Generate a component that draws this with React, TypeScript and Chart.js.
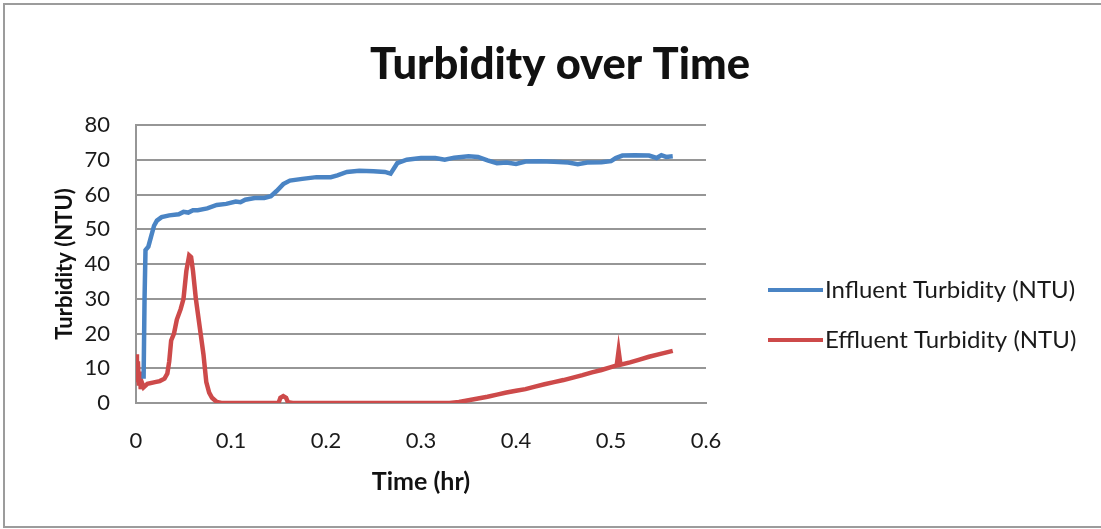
import React, { useEffect, useRef } from "react";
import { Chart, registerables } from "chart.js";

Chart.register(...registerables);

const influentTime = [
  0.008, 0.009, 0.01, 0.013, 0.016, 0.019, 0.022, 0.027, 0.035, 0.045, 0.05, 0.055, 0.06, 0.065,
  0.075, 0.085, 0.095, 0.105, 0.11, 0.115, 0.125, 0.135, 0.142, 0.148, 0.155, 0.162, 0.175, 0.19,
  0.205, 0.212, 0.222, 0.235, 0.25, 0.262, 0.268, 0.275, 0.285, 0.3, 0.315, 0.325, 0.335, 0.35,
  0.36, 0.37, 0.38, 0.39, 0.4, 0.41, 0.425, 0.44, 0.455, 0.465, 0.475, 0.49, 0.5, 0.505, 0.512,
  0.525, 0.54, 0.548, 0.553, 0.558, 0.565,
];
const influentNTU = [
  7, 30, 44, 45, 48, 51, 52.5, 53.5, 54, 54.3, 55, 54.8, 55.5, 55.5, 56, 57, 57.3, 58, 57.8, 58.5,
  59, 59, 59.5, 61, 63, 64, 64.5, 65, 65, 65.5, 66.5, 66.8, 66.7, 66.5, 66, 69, 70, 70.5, 70.5, 70,
  70.6, 71, 70.8, 69.8, 69, 69.2, 68.8, 69.5, 69.6, 69.4, 69.2, 68.7, 69.2, 69.3, 69.6, 70.5,
  71.2, 71.3, 71.2, 70.5, 71.3, 70.8, 71,
];

const effluentTime = [
  0, 0.001, 0.002, 0.003, 0.004, 0.005, 0.006, 0.008, 0.012, 0.02, 0.025, 0.03, 0.033, 0.035,
  0.037, 0.04, 0.043, 0.047, 0.05, 0.053, 0.056, 0.058, 0.06, 0.063, 0.067, 0.071, 0.074, 0.077,
  0.08, 0.085, 0.09, 0.15, 0.152, 0.155, 0.158, 0.16, 0.165, 0.33, 0.34, 0.35, 0.36, 0.37, 0.38,
  0.39, 0.4, 0.41, 0.42, 0.43, 0.44, 0.45, 0.46, 0.47, 0.48, 0.49, 0.5, 0.506, 0.508, 0.51, 0.52,
  0.53, 0.54, 0.55, 0.565,
];
const effluentNTU = [
  14, 6, 12, 5, 9, 4, 6, 4.5, 5.5, 6, 6.3, 7, 8.5, 12, 18, 20, 24, 27, 30, 38, 42.5, 42, 38, 30,
  22, 14, 6, 3, 1.5, 0.3, 0, 0, 1.5, 2, 1.5, 0.2, 0, 0, 0.3, 0.8, 1.3, 1.8, 2.4, 3, 3.5, 4, 4.7,
  5.4, 6, 6.6, 7.3, 8, 8.8, 9.5, 10.3, 10.8, 15, 11, 11.7, 12.5, 13.3, 14, 15,
];

const seriesNames = ["Influent Turbidity (NTU)", "Effluent Turbidity (NTU)"];
const seriesColors = ["#4a84c4", "#cd4a4a"];
const chartTitle = "Turbidity over Time";
const xTitle = "Time (hr)";
const yTitle = "Turbidity (NTU)";

const FONT = "Lato, 'Open Sans', sans-serif";

const legendPlugin = {
  id: "sideLegend",
  afterDraw(chart: any) {
    const { ctx, chartArea } = chart;
    ctx.save();
    chart.data.datasets.forEach((ds: any, i: number) => {
      const y = chartArea.top + 165 + i * 50;
      const x0 = chartArea.right + 62;
      ctx.strokeStyle = ds.borderColor;
      ctx.lineWidth = 4;
      ctx.beginPath();
      ctx.moveTo(x0, y);
      ctx.lineTo(x0 + 55, y);
      ctx.stroke();
      ctx.fillStyle = "#1a1a1a";
      ctx.font = `24px ${FONT}`;
      ctx.textAlign = "left";
      ctx.textBaseline = "middle";
      ctx.fillText(ds.label, x0 + 57, y);
    });
    ctx.restore();
  },
};

export default function App() {
  const ref = useRef<HTMLCanvasElement>(null);
  useEffect(() => {
    if (!ref.current) return;
    const grid = "#969696";
    const chart = new Chart(ref.current, {
      type: "line",
      data: {
        datasets: [
          {
            label: seriesNames[0],
            data: influentTime.map((t, i) => ({ x: t, y: influentNTU[i] })),
            borderColor: seriesColors[0],
            backgroundColor: seriesColors[0],
            borderWidth: 4.5,
            pointRadius: 0,
            tension: 0,
          },
          {
            label: seriesNames[1],
            data: effluentTime.map((t, i) => ({ x: t, y: effluentNTU[i] })),
            borderColor: seriesColors[1],
            backgroundColor: seriesColors[1],
            borderWidth: 4.5,
            pointRadius: 0,
            tension: 0,
          },
        ],
      },
      options: {
        animation: false,
        responsive: false,
        devicePixelRatio: 1,
        layout: { padding: { left: 19, top: 0, right: 0, bottom: 0 } },
        plugins: {
          legend: { display: false },
          tooltip: { enabled: false },
          title: {
            display: true,
            text: chartTitle,
            color: "#111",
            font: { family: FONT, size: 43.5, weight: "900", lineHeight: 1.2 },
            padding: { top: 39, bottom: 33.8 },
          },
        },
        scales: {
          x: {
            type: "linear",
            min: 0,
            max: 0.6,
            afterFit: (s: any) => {
              s.height = 126;
            },
            ticks: {
              stepSize: 0.1,
              padding: 25,
              color: "#1a1a1a",
              font: { family: FONT, size: 22 },
              callback: (v: any) => String(Math.round(Number(v) * 10) / 10),
            },
            grid: { display: false, drawTicks: false },
            border: { display: true, color: grid, width: 2 },
            title: {
              display: true,
              text: xTitle,
              color: "#111",
              font: { family: FONT, size: 25, weight: "bold" },
              padding: { top: 0, bottom: 32 },
            },
          },
          y: {
            min: 0,
            max: 80,
            afterFit: (s: any) => {
              s.width = 117;
            },
            ticks: {
              stepSize: 10,
              padding: 26,
              color: "#1a1a1a",
              font: { family: FONT, size: 22 },
            },
            grid: { color: grid, lineWidth: 2, drawTicks: false },
            border: { display: true, color: grid, width: 2 },
            title: {
              display: true,
              text: yTitle,
              color: "#111",
              font: { family: FONT, size: 22, weight: "bold" },
              padding: { top: 33, bottom: 0 },
            },
          },
          yR: {
            position: "right",
            display: true,
            afterFit: (s: any) => {
              s.width = 395;
            },
            ticks: { display: false },
            grid: { display: false, drawTicks: false, drawOnChartArea: false },
            border: { display: false, width: 0 },
          },
        },
      },
      plugins: [legendPlugin],
    } as any);
    return () => chart.destroy();
  }, []);

  return (
    <div style={{ position: "absolute", left: 0, top: 0, width: 1101, height: 529, background: "#fff", overflow: "hidden" }}>
      <div
        style={{
          position: "absolute",
          left: 3,
          top: 3,
          width: 1300,
          height: 525,
          borderTop: "2px solid #9c9c9c",
          borderLeft: "2px solid #9c9c9c",
          borderBottom: "2px solid #9c9c9c",
          borderRight: "none",
          boxSizing: "border-box",
        }}
      />
      <canvas ref={ref} width={1101} height={529} style={{ position: "absolute", left: 0, top: 0, width: 1101, height: 529 }} />
    </div>
  );
}
